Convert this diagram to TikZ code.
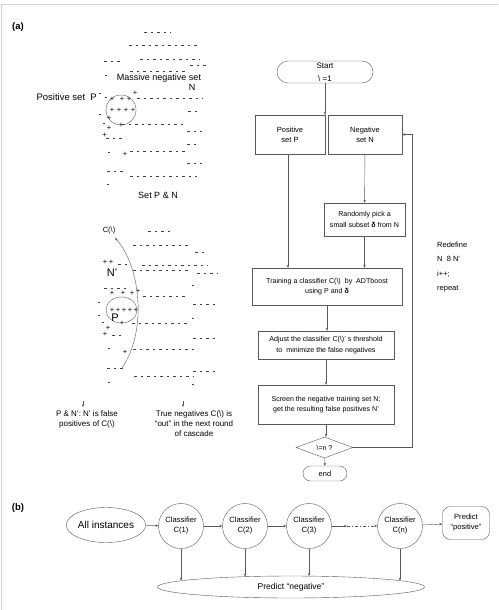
\documentclass[tikz,border=0pt]{standalone}
\usepackage{fontspec}
\setmainfont{Liberation Sans}
\usetikzlibrary{shapes.geometric,arrows.meta}
\definecolor{linegray}{gray}{0.35}
\newcommand{\fsz}[2]{\fontsize{#1}{#2}\selectfont}

\tikzset{
  box/.style={draw=linegray, rectangle, inner sep=0pt, align=center, font=\fsz{7.1}{10.5}},
  term/.style={box, font=\fsz{8}{12.5}},
  cls/.style={draw=linegray, circle, minimum size=45pt, inner sep=0pt, align=center, font=\fsz{7.6}{10}},
  arr/.style={draw=linegray, -{Stealth[length=3pt,width=2.4pt]}},
  negs/.style={draw=black!75, line width=0.5pt, dash pattern=on 2.8pt off 3.7pt},
  plus/.style={inner sep=0pt, font=\fsz{7.5}{7.5}},
  lbl/.style={inner sep=0pt, align=center, font=\fsz{8}{10}},
}

\begin{document}
\begin{tikzpicture}[x=1pt,y=-1pt]
\useasboundingbox (0,0) rectangle (498,610);
\draw[gray!35] (1,610) -- (1,4) -- (498,4);

\node[font=\bfseries\fsz{9.5}{9.5}] (lbla) at (18,27) {(a)};
\node[font=\bfseries\fsz{9.5}{9.5}] (lblb) at (18,508) {(b)};

% set P & N (top)
\foreach \a/\b/\y in
{144/171/32, 129/200/45, 104/121/61, 140/200/59, 190/206/65, 130/185/71,
 137/203/98, 188/197/111, 122/185/124, 187/202/131, 106/124/138, 187/197/144,
 130/185/151, 187/202/163, 107/124/171, 130/197/176}{
	\draw[negs] (\a,\y) -- (\b,\y);
}
\foreach \x/\y in
{106/75, 106/97, 100/93, 100/114, 104/123, 109/152, 108/184}{
	\draw[negs] (\x-1.4,\y) -- (\x+1.4,\y);
}
\foreach \x/\y in
{112/99, 122/99, 129/99, 135/93, 112/110, 119/110, 126/110, 133/110,
 109/118, 121/125, 109/128.5, 104.5/135, 125/154}{
	\node[plus] at (\x,\y) {+};
}
\node[draw=linegray, circle, minimum size=30pt, inner sep=0pt] (pset) at (121,110) {};
\node[lbl, font=\fsz{9}{10}, fill=white, fill opacity=0.7, text opacity=1] (massive) at (159,78) {Massive negative set};
\node[lbl, font=\fsz{9}{10}] (nlbl) at (192,87) {N};
\node[lbl, font=\fsz{9.5}{10}, anchor=east] (poslbl) at (97,97) {Positive set\ \ P};
\node[lbl, font=\fsz{9}{10}] (setpn) at (158,195) {Set P \& N};

% set P & N' (bottom)
\foreach \a/\b/\y in
{148/171/231, 133/188/245, 195/204/252, 142/208/265, 133/190/270, 197/218/273,
 118/127/264, 104/127/288, 143/188/296, 193/215/304, 132/190/323, 112/124/335,
 193/215/338, 133/195/349, 107/123/368, 193/215/371, 134/193/376}{
	\draw[negs] (\a,\y) -- (\b,\y);
}
\foreach \x/\y in
{193/285, 99/302, 99/315, 193/318, 103/322, 109/348, 109/382, 193/384}{
	\draw[negs] (\x-1.4,\y) -- (\x+1.4,\y);
}
\foreach \x/\y in
{105/262, 111/262, 112/293, 123/293, 132/293, 138/291, 112/310, 118/310,
 124/310, 130/310, 136/310, 108/328, 122/323, 105/334, 125/352}{
	\node[plus] at (\x,\y) {+};
}
\node[draw=linegray, ellipse, minimum width=31pt, minimum height=26pt, inner sep=0pt] (pell) at (121.5,310) {};
\node[lbl, font=\fsz{11}{11}] (nprime) at (112,273) {N'};
\node[lbl, font=\fsz{11}{11}] (plbl) at (115,318) {P};
\node[lbl, font=\fsz{7.5}{10}] (cilbl) at (109,231) {C(\textbackslash)};
\coordinate (ctop) at (115,238);
\coordinate (cbot) at (122,368);
\draw[arr] (cbot) .. controls (148,330) and (140,265) .. (ctop);

\node[lbl, anchor=north] (fptxt) at (87,410) {P \& N': N' is false\\positives of C(\textbackslash)};
\node[lbl, anchor=north] (tntxt) at (194,410) {True negatives C(\textbackslash) is\\``out'' in the next round\\of cascade};
\coordinate (fa) at (83,401);
\coordinate (ta) at (183,401);
\draw[arr] (fa) -- ++(0,6);
\draw[arr] (ta) -- ++(0,6);

% flow chart
\node[term, rounded corners=11pt, minimum width=96pt, minimum height=22pt] (start) at (325,72) {Start\\\textbackslash\ =1};
\node[box, font=\fsz{7.5}{10}, minimum width=70pt, minimum height=39pt] (pos) at (290,134.5) {Positive\\set P};
\node[box, font=\fsz{7.5}{10}, minimum width=74pt, minimum height=39pt] (neg) at (365,134.5) {Negative\\set N};
\node[box, minimum width=81pt, minimum height=33pt] (rand) at (364.5,219.5) {Randomly pick a\\small subset \textbf{δ} from N};
\node[box, minimum width=150pt, minimum height=37pt] (train) at (327,286.5) {Training a classifier C(\textbackslash)\ \ by\ \ ADTboost\\using P and \textbf{δ}};
\node[box, minimum width=136pt, minimum height=28pt] (adjust) at (326,345) {Adjust the classifier C(\textbackslash)' s threshold\\to\ \ minimize the false negatives};
\node[box, minimum width=136pt, minimum height=39pt] (screen) at (326,404.5) {Screen the negative training set N;\\get the resulting false positives N'};
\node[draw=linegray, diamond, aspect=2.7, inner sep=0pt, minimum width=57pt, minimum height=21pt, font=\fsz{7}{8}] (dia) at (324.5,447.5) {\textbackslash=n ?};
\node[term, rounded corners=7.5pt, minimum width=44pt, minimum height=15pt, font=\fsz{7.5}{8}] (stop) at (325,473.5) {end};
\node[lbl, anchor=north west, align=left, font=\fsz{7.5}{14.3}] (redef) at (437,242) {Redefine\\N\ \ 8 N'\\i++;\\repeat};

\draw[arr] (start) -- (start |- pos.north);
\draw[arr] (pos.south -| 288,0) -- (train.north -| 288,0);
\draw[arr] (neg) -- (rand);
\draw[arr] (rand) -- (rand |- train.north);
\draw[arr] (train) -- (train.south |- adjust.north);
\draw[arr] (adjust) -- (adjust |- screen.north);
\draw[arr] (screen) -- (screen.south |- dia.north);
\draw[arr] (dia) -- (stop);
\coordinate (loop) at (412,134.5);
\draw[arr] (dia.east) -| (loop) -- (neg.east);

% cascade
\node[draw=linegray, ellipse, minimum width=66pt, minimum height=35pt, inner sep=0pt, font=\fsz{10}{10}] (all) at (106,525) {All instances};
\foreach \n/\x/\t in {c1/181/1, c2/245/2, c3/309/3, cn/400/n}{
	\node[cls] (\n) at (\x,526) {Classifier\\C(\t)};
}
\node[box, rounded corners=8pt, font=\fsz{7.6}{10}, minimum width=47pt, minimum height=33pt] (predpos) at (466,523) {Predict\\``positive''};
\node[draw=linegray, ellipse, minimum width=267pt, minimum height=22pt, inner sep=0pt, font=\fsz{8.5}{10}] (predneg) at (291,587) {Predict ``negative''};

\draw[arr] (all) -- (c1);
\draw[arr] (c1) -- (c2);
\draw[arr] (c2) -- (c3);
\coordinate (dots) at (347,526);
\draw[arr] (c3) -- (dots);
\draw[arr, dash pattern=on 3pt off 2pt on 1pt off 2pt] (dots) -- (cn);
\draw[arr] (cn) -- (predpos);
\foreach \n/\e in {c1/580.5, c2/576.5, c3/576, cn/580.5}{
	\draw[arr] (\n) -- (\n |- 0,\e);
}
\end{tikzpicture}
\end{document}
